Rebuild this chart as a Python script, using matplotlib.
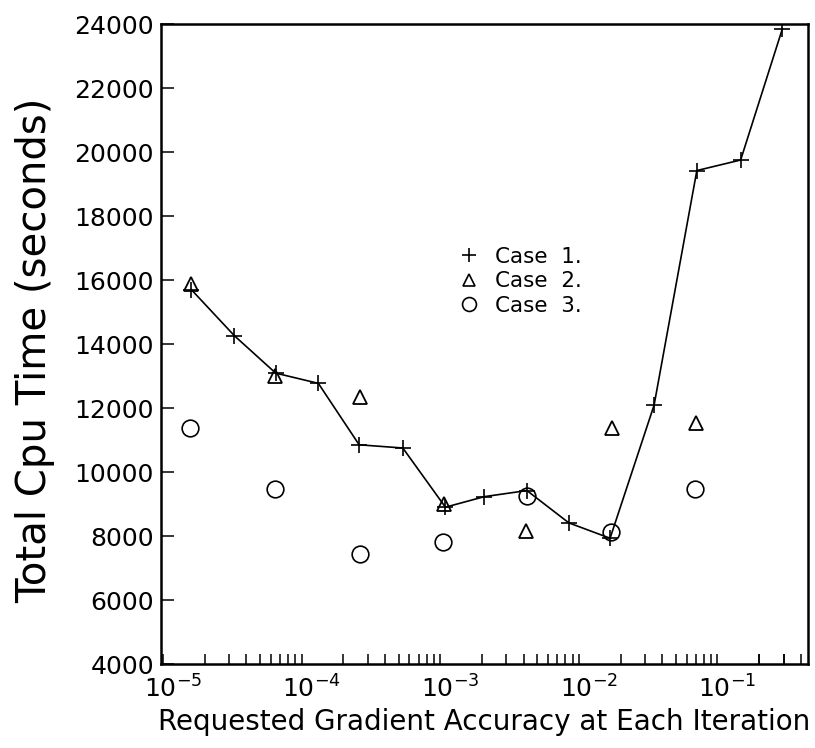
import matplotlib
matplotlib.use('Agg')
import matplotlib.pyplot as plt
from matplotlib.lines import Line2D
from matplotlib.ticker import FixedLocator, NullFormatter
from matplotlib.transforms import ScaledTranslation

# Case 1 : + reliés par une ligne
acc1 = [1.6e-5, 3.27e-5, 6.5e-5, 1.32e-4, 2.6e-4, 5.37e-4, 1.09e-3, 2.08e-3,
        4.22e-3, 8.47e-3, 1.68e-2, 3.49e-2, 7.1e-2, 0.147, 0.294]
cpu1 = [15700, 14260, 13090, 12770, 10850, 10750, 8900, 9230,
        9420, 8410, 7930, 12090, 19420, 19750, 23850]

# Case 2 : triangles
acc2 = [1.6e-5, 6.45e-5, 2.64e-4, 1.07e-3, 4.19e-3, 1.73e-2, 7.0e-2]
cpu2 = [15880, 13000, 12350, 9000, 8150, 11370, 11520]

# Case 3 : cercles
acc3 = [1.56e-5, 6.45e-5, 2.62e-4, 1.05e-3, 4.22e-3, 1.7e-2, 6.9e-2]
cpu3 = [11380, 9480, 7450, 7800, 9250, 8120, 9470]

yticks = list(range(4000, 24001, 2000))
xticks = [1e-5, 1e-4, 1e-3, 1e-2, 1e-1]
xlabels = [r'$10^{-5}$', r'$10^{-4}$', r'$10^{-3}$', r'$10^{-2}$', r'$10^{-1}$']

plt.rcParams['font.family'] = 'DejaVu Sans'
plt.rcParams['mathtext.default'] = 'regular'

fig = plt.figure(figsize=(8.15, 7.48), dpi=100)
ax = fig.add_axes([161 / 815, 1 - 664 / 748, 647 / 815, 640 / 748])

ax.plot(acc1, cpu1, color='black', lw=1.2, marker='+', ms=12, mew=1.2)
ax.plot(acc2, cpu2, ls='none', marker='^', ms=10, mfc='none', mec='black', mew=1.3)
ax.plot(acc3, cpu3, ls='none', marker='o', ms=12, mfc='none', mec='black', mew=1.2)

ax.set_xscale('log')
ax.set_xlim(0.967e-5, 0.45)
ax.set_ylim(4000, 24000)
ax.set_yticks(yticks)
ax.set_yticklabels([str(v) for v in yticks])
ax.set_xticks(xticks)
ax.set_xticklabels(xlabels)

# petites graduations 2..9 de chaque décade, jusqu'à 0.3
minors = [m * 10.0 ** e for e in range(-5, 0) for m in range(2, 10)] + [0.2, 0.3]
ax.xaxis.set_minor_locator(FixedLocator(minors))
ax.xaxis.set_minor_formatter(NullFormatter())
ax.tick_params(axis='x', which='both', direction='in', length=7.5, width=1.1,
               top=False, labelsize=18, pad=8)
ax.tick_params(axis='y', which='major', direction='in', length=9, width=1.1,
               right=False, labelsize=18, pad=5)
ax.tick_params(axis='y', which='minor', left=False)

# le "10" est centré sur la graduation, l'exposant déborde à droite
shift = ScaledTranslation(10 / 100, 0, fig.dpi_scale_trans)
for lab in ax.get_xticklabels():
    lab.set_transform(lab.get_transform() + shift)

for s in ax.spines.values():
    s.set_linewidth(1.8)

ax.set_xlabel('Requested Gradient Accuracy at Each Iteration', fontsize=20, labelpad=4)
ax.set_ylabel('Total Cpu Time (seconds)', fontsize=29)
ax.yaxis.set_label_coords(-0.163, 0.49)

handles = [
    Line2D([], [], ls='none', marker='+', ms=10, mew=1.2, color='black'),
    Line2D([], [], ls='none', marker='^', ms=8, mfc='none', mec='black', mew=1.2),
    Line2D([], [], ls='none', marker='o', ms=10, mfc='none', mec='black', mew=1.2),
]
ax.legend(handles, ['Case  1.', 'Case  2.', 'Case  3.'], loc='upper left',
          bbox_to_anchor=(458 / 815, 1 - 247 / 748), bbox_transform=fig.transFigure,
          frameon=False, fontsize=15.5, handlelength=1.0, handletextpad=0.7,
          labelspacing=0.2, borderpad=0, borderaxespad=0)

fig.savefig('out.png', dpi=100)
